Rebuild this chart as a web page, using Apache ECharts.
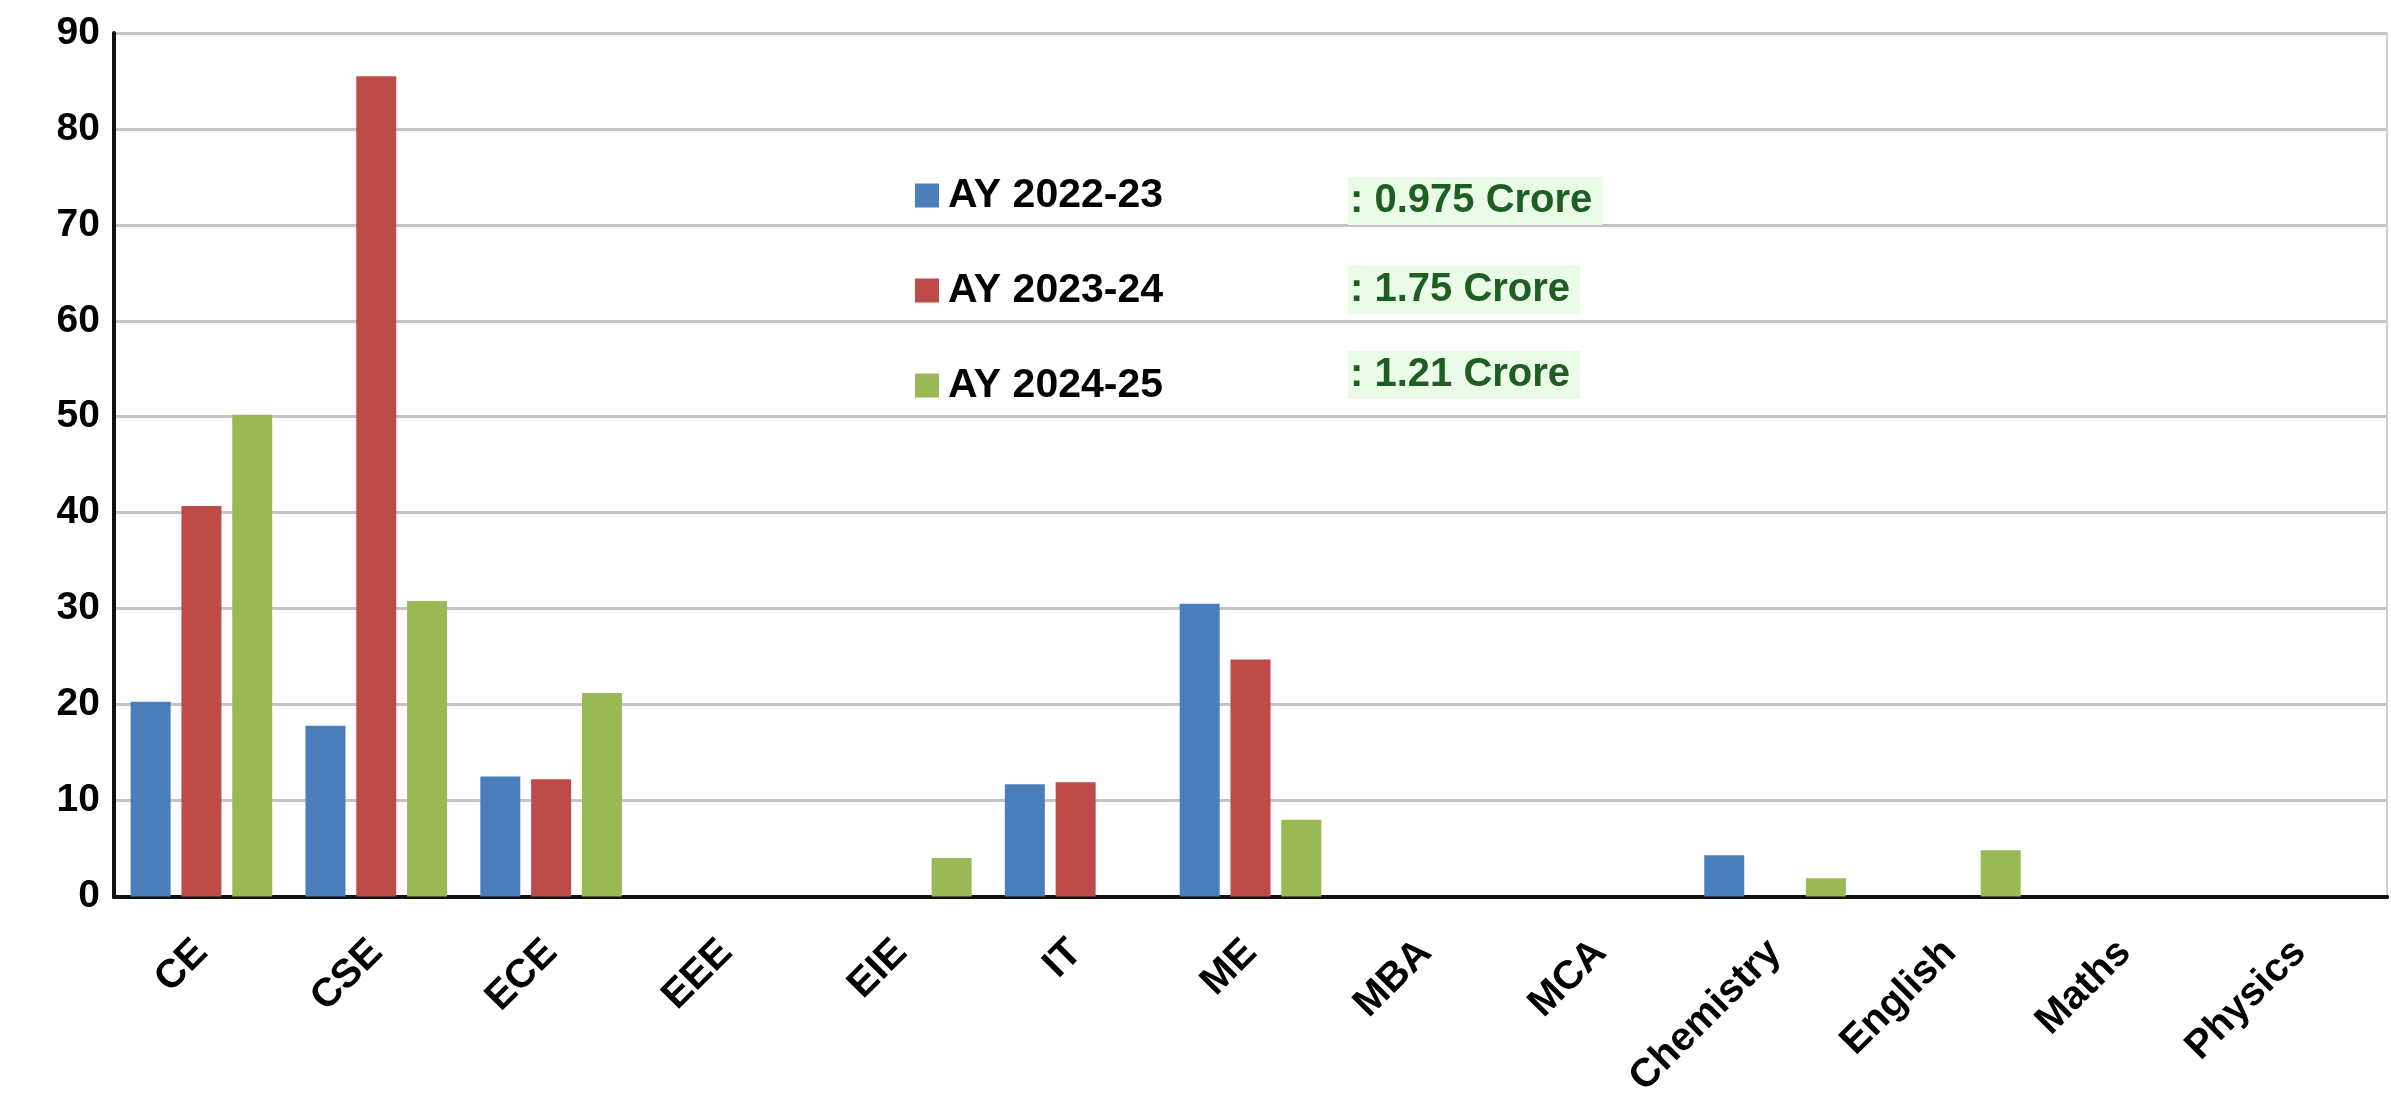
<!DOCTYPE html>
<html>
<head>
<meta charset="utf-8">
<script src="https://cdn.jsdelivr.net/npm/echarts@6/dist/echarts.min.js"></script>
<style>
html,body{margin:0;padding:0;background:#fff;}
#chart{width:2391px;height:1101px;}
</style>
</head>
<body>
<div id="chart"></div>
<script>
const categories = ['CE','CSE','ECE','EEE','EIE','IT','ME','MBA','MCA','Chemistry','English','Maths','Physics'];
const seriesNames = ['AY 2022-23','AY 2023-24','AY 2024-25'];
const ay2022 = [20.3, 17.8, 12.5, 0, 0, 11.7, 30.5, 0, 0, 4.3, 0, 0, 0];
const ay2023 = [40.7, 85.5, 12.2, 0, 0, 11.9, 24.7, 0, 0, 0, 0, 0, 0];
const ay2024 = [50.2, 30.8, 21.2, 0, 4.0, 0, 8.0, 0, 0, 1.9, 4.8, 0, 0];
const croreLabels = [': 0.975 Crore', ': 1.75 Crore', ': 1.21 Crore'];
const yTicks = [0,10,20,30,40,50,60,70,80,90];

const colors = ['#4a7ebb','#be4b48','#98b954'];
const FONT = '"Liberation Sans", Arial, sans-serif';

const chart = echarts.init(document.getElementById('chart'));
const dataSets = [ay2022, ay2023, ay2024];
const croreY = [202, 291, 376];

const option = {
  backgroundColor: '#ffffff',
  animation: false,
  grid: { left: 114, right: 4, top: 33, bottom: 203, containLabel: false },
  legend: {
    orient: 'vertical',
    left: 910,
    top: 170,
    icon: 'rect',
    itemWidth: 24,
    itemHeight: 24,
    itemGap: 54,
    selectedMode: false,
    textStyle: { fontFamily: FONT, fontWeight: 'bold', fontSize: 41, color: '#000', padding: [0,0,0,4] },
    data: seriesNames
  },
  xAxis: [{
    type: 'category',
    data: categories,
    axisLine: { show: true, lineStyle: { color: '#222', width: 4 } },
    axisTick: { show: false },
    axisLabel: {
      rotate: 45, interval: 0, margin: 50,
      fontFamily: FONT, fontWeight: 'bold', fontSize: 40, color: '#000'
    },
    splitLine: { show: false }
  },{
    type: 'category',
    position: 'top',
    data: categories,
    axisLine: { show: true, lineStyle: { color: '#111', width: 4 } },
    axisTick: { show: false },
    axisLabel: { show: false },
    splitLine: { show: false }
  }],
  yAxis: [{
    type: 'value',
    min: 0, max: 90, interval: 10,
    axisLine: { show: true, lineStyle: { color: '#111', width: 4 } },
    axisTick: { show: false },
    axisLabel: {
      margin: 14,
      fontFamily: FONT, fontWeight: 'bold', fontSize: 39, color: '#000',
      formatter: v => yTicks.includes(v) ? String(v) : ''
    },
    splitLine: { show: true, lineStyle: { color: '#c4c4c4', width: 3 } }
  },{
    type: 'value',
    position: 'right',
    min: 0, max: 90, interval: 10,
    axisLine: { show: true, lineStyle: { color: '#d0d0d0', width: 2 } },
    axisTick: { show: false },
    axisLabel: { show: false },
    splitLine: { show: false }
  }],
  series: seriesNames.map((name, i) => ({
    name: name,
    type: 'bar',
    data: dataSets[i],
    itemStyle: { color: colors[i] },
    barGap: '27%',
    barCategoryGap: '19%'
  })),
  graphic: croreLabels.map((t, i) => ({
    type: 'text',
    left: 1348,
    top: croreY[i] - 25,
    z: 100,
    style: {
      text: t,
      fontFamily: FONT,
      fontWeight: 'bold',
      fontSize: 40,
      fill: '#1e5e22',
      backgroundColor: '#eafbe8',
      padding: [4, 10, 4, 2]
    }
  }))
};
chart.setOption(option);
</script>
</body>
</html>
